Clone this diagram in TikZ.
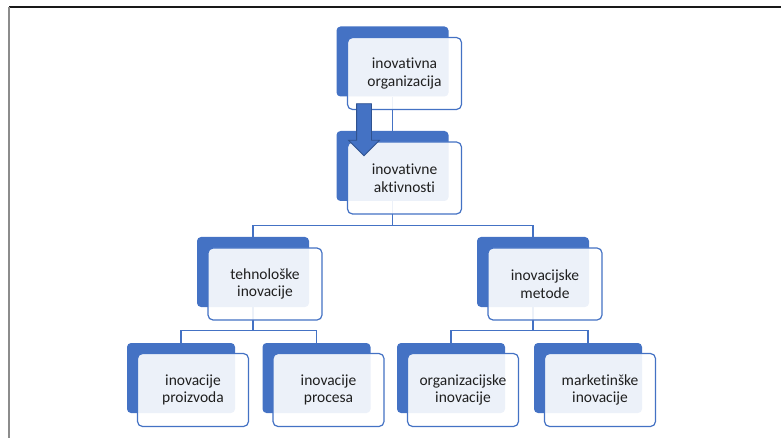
\documentclass[tikz,border=0pt]{standalone}
\usepackage{fontspec}
\setmainfont{Carlito}[Ligatures=NoCommon]
\usetikzlibrary{shapes.arrows}
\definecolor{smartblue}{HTML}{4472C4}
\definecolor{arrowedge}{HTML}{2F528F}

\begin{document}
\begin{tikzpicture}[
  x=1pt,
  y=-1pt,
  back/.style={fill=smartblue, rounded corners=4pt, minimum width=112pt, minimum height=70pt, inner sep=0pt},
  front/.style={draw=smartblue, line width=1.2pt, fill=white, fill opacity=0.9, text opacity=1, rounded corners=5pt, minimum width=114pt, minimum height=72pt, inner sep=1pt, align=center, text=black!88, font=\fontsize{15.5}{17.5}\selectfont, xshift=12pt, yshift=-12pt},
  narrow/.style={minimum width=108pt},
  narrowfront/.style={minimum width=111pt, minimum height=73pt},
  link/.style={draw=smartblue, line width=1.2pt},
  flow/.style={single arrow, rotate=-90, fill=smartblue, draw=arrowedge, line width=0.8pt, minimum height=52pt, inner xsep=0pt, inner ysep=7pt, single arrow head extend=8pt}
]
\useasboundingbox (0,0) rectangle (781,438);
\draw[line width=1.2pt, black!90] (9,7) -- (781,7);
\draw[line width=1.6pt, black!45] (9,7) -- (9,438);

% dark back plates
\node[back] (orgB) at (392.5,61.5) {};
\node[back] (actB) at (392.5,166) {};
\node[back] (techB) at (253,272) {};
\node[back] (metB) at (533,272) {};
\node[back, narrow] (proizB) at (181,378) {};
\node[back, narrow] (procB) at (316.5,378) {};
\node[back, narrow] (orgiB) at (451,378) {};
\node[back, narrow] (markB) at (588,378) {};

% connectors
\draw[link] (orgB.south) -- (actB.north);
\draw[link] (actB.south) -- ++(0,24) -| (techB.north);
\draw[link] (actB.south) -- ++(0,24) -| (metB.north);
\draw[link] (techB.south) -- ++(0,23) -| (proizB.north);
\draw[link] (techB.south) -- ++(0,23) -| (procB.north);
\draw[link] (metB.south) -- ++(0,23) -| (orgiB.north);
\draw[link] (metB.south) -- ++(0,23) -| (markB.north);

% text boxes
\node[front] (org) at (orgB) {inovativna\\organizacija};
\node[front] (act) at (actB) {inovativne\\aktivnosti};
\node[front] (tech) at (techB) {tehnološke\\inovacije};
\node[front] (met) at (metB) {inovacijske\\metode};
\node[front, narrowfront] (proiz) at (proizB) {inovacije\\proizvoda};
\node[front, narrowfront] (proc) at (procB) {inovacije\\procesa};
\node[front, narrowfront] (orgi) at (orgiB) {organizacijske\\inovacije};
\node[front, narrowfront] (mark) at (markB) {marketinške\\inovacije};

\node[flow] (push) at (364,126) {};
\end{tikzpicture}
\end{document}
